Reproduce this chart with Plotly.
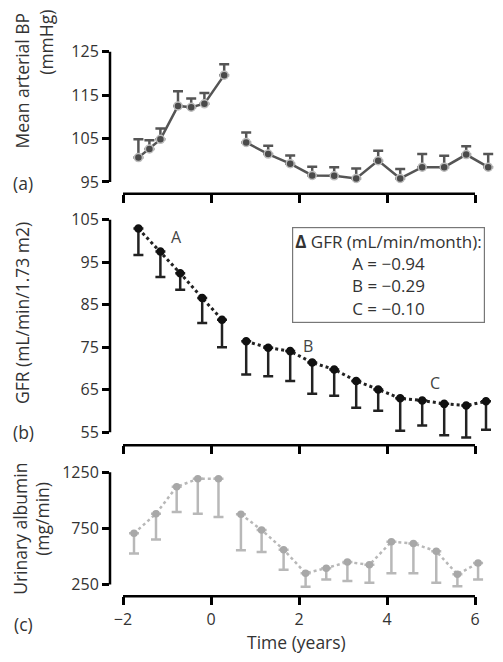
import plotly.graph_objects as go

W, H = 503, 662

# ---------------- data ----------------
# (a) Mean arterial BP (mmHg)
map_x1 = [-1.65, -1.4, -1.15, -0.75, -0.45, -0.15, 0.3]
map_y1 = [100.6, 102.6, 104.8, 112.5, 112.2, 113.0, 119.6]
map_e1 = [4.2, 2.0, 2.5, 3.4, 2.0, 2.5, 2.5]
map_x2 = [0.8, 1.3, 1.8, 2.3, 2.8, 3.3, 3.8, 4.3, 4.8, 5.3, 5.8, 6.3]
map_y2 = [104.1, 101.4, 99.2, 96.5, 96.4, 95.8, 99.9, 95.8, 98.4, 98.4, 101.3, 98.4]
map_e2 = [2.3, 1.9, 1.9, 2.0, 2.0, 2.3, 2.3, 2.2, 3.0, 2.6, 1.9, 3.0]

# (b) GFR (mL/min/1.73 m2)
gfr_x1 = [-1.65, -1.15, -0.7, -0.2, 0.25]
gfr_y1 = [102.9, 97.5, 92.4, 86.6, 81.5]
gfr_e1 = [6.2, 6.0, 3.9, 5.9, 6.5]
gfr_x2 = [0.8, 1.3, 1.8, 2.3, 2.8, 3.3, 3.8, 4.3, 4.8, 5.3, 5.8, 6.25]
gfr_y2 = [76.4, 74.9, 74.1, 71.4, 69.8, 67.1, 65.1, 63.0, 62.5, 61.7, 61.3, 62.3]
gfr_e2 = [7.8, 6.7, 7.0, 7.3, 6.2, 6.3, 5.0, 7.6, 5.9, 7.4, 7.5, 6.7]

# (c) Urinary albumin (mg/min)
alb_x1 = [-1.75, -1.25, -0.78, -0.3, 0.17]
alb_y1 = [705, 880, 1120, 1190, 1190]
alb_e1 = [180, 230, 225, 310, 340]
alb_x2 = [0.68, 1.15, 1.65, 2.15, 2.62, 3.1, 3.6, 4.1, 4.6, 5.12, 5.6, 6.07]
alb_y2 = [875, 735, 560, 350, 395, 450, 425, 630, 615, 545, 340, 440]
alb_e2 = [320, 195, 180, 120, 100, 170, 160, 280, 265, 280, 105, 145]

x_ticks = [-2, 0, 2, 4, 6]
x_ticktext = ["\u22122", "0", "2", "4", "6"]
map_ticks = [95, 105, 115, 125]
gfr_ticks = [55, 65, 75, 85, 95, 105]
alb_ticks = [250, 750, 1250]

slope_labels = ["A", "B", "C"]
slope_vals = ["\u22120.94", "\u22120.29", "\u22120.10"]
slope_pos_x = [-0.78, 2.21, 5.09]
slope_pos_y = [101.0, 75.3, 66.7]

# ---------------- layout geometry (pixels) ----------------
FONT = "Open Sans"
def py(p):
    return 1 - p / H
def px(p):
    return p / W

X_LEFT_PX = 110
PX_PER_YR = 44.0
xmin = -2 - (123 - X_LEFT_PX) / PX_PER_YR
xmax = xmin + (W - X_LEFT_PX) / PX_PER_YR

# panel pixel definitions: (top value, top px, bottom value, bottom px, domain top px, domain bottom px, x-spine px)
panels = {
    "a": (125, 52, 95, 183, 40, 190, 195),
    "b": (105, 221, 55, 435, 205, 446, 448),
    "c": (1250, 475, 250, 588, 462, 598, 600),
}

def yrange(p):
    vt, pt, vb, pb, dt, db, _ = p
    k = (pb - pt) / (vt - vb)  # px per unit
    top = vt + (pt - dt) / k
    bot = vb - (db - pb) / k
    return [bot, top], [py(db), py(dt)]

fig = go.Figure()

mid = "#555555"
light = "#b8b8b8"

def add_series(x, y, e, xa, ya, color, mcolor, msize, dash, lw, up, mline):
    err = dict(type="data", symmetric=False,
               array=(e if up else [0] * len(e)),
               arrayminus=([0] * len(e) if up else e),
               color=color, thickness=2.5, width=5)
    fig.add_trace(go.Scatter(
        x=x, y=y, xaxis=xa, yaxis=ya, mode="lines+markers",
        line=dict(color=color, width=lw, dash=dash),
        marker=dict(color=mcolor, size=msize, line=dict(color=mline, width=1.5)),
        error_y=err, showlegend=False, hoverinfo="skip"))

add_series(map_x1, map_y1, map_e1, "x", "y", mid, "#4a4a4a", 8, "solid", 2.5, True, "#bdbdbd")
add_series(map_x2, map_y2, map_e2, "x", "y", mid, "#4a4a4a", 8, "solid", 2.5, True, "#bdbdbd")
add_series(gfr_x1, gfr_y1, gfr_e1, "x2", "y2", "#222222", "#111111", 7, "dot", 3, False, "#111111")
add_series(gfr_x2, gfr_y2, gfr_e2, "x2", "y2", "#222222", "#111111", 7, "dot", 3, False, "#111111")
add_series(alb_x1, alb_y1, alb_e1, "x3", "y3", light, "#a8a8a8", 6, "dot", 2.5, False, "#a8a8a8")
add_series(alb_x2, alb_y2, alb_e2, "x3", "y3", light, "#a8a8a8", 6, "dot", 2.5, False, "#a8a8a8")

tickfont = dict(family=FONT, size=16, color="#333")
shapes = []
axis_common = dict(showgrid=False, zeroline=False, showline=False, ticks="outside",
                   tickcolor="black", tickwidth=2.5, tickfont=tickfont, fixedrange=True)

layout = dict(width=W, height=H, margin=dict(l=0, r=0, t=0, b=0),
              paper_bgcolor="white", plot_bgcolor="white", showlegend=False)

yvals = {"a": map_ticks, "b": gfr_ticks, "c": alb_ticks}
for i, key in enumerate(["a", "b", "c"]):
    p = panels[key]
    yr, ydom = yrange(p)
    sfx = "" if i == 0 else str(i + 1)
    layout["yaxis" + sfx] = dict(axis_common, domain=ydom, range=yr, anchor="x" + sfx,
                                 tickvals=yvals[key], ticklen=7)
    layout["xaxis" + sfx] = dict(axis_common, domain=[px(X_LEFT_PX), 1], range=[xmin, xmax],
                                 anchor="free", position=py(p[6]), tickvals=x_ticks,
                                 ticktext=x_ticktext, ticklen=8,
                                 showticklabels=(key == "c"))
    shapes.append(dict(type="line", xref="paper", yref="y" + sfx, x0=px(X_LEFT_PX), x1=px(X_LEFT_PX),
                       y0=min(yvals[key]), y1=max(yvals[key]), line=dict(color="black", width=2.5)))
    shapes.append(dict(type="line", xref="x" + sfx, yref="paper", x0=-2, x1=6,
                       y0=py(p[6]), y1=py(p[6]), line=dict(color="black", width=2.5)))

layout["shapes"] = shapes

annots = []
tf = dict(family=FONT, size=17.5, color="#333")
def ann(text, x, y, angle=0, **kw):
    d = dict(text=text, xref="paper", yref="paper", x=px(x), y=py(y), showarrow=False,
             font=tf, textangle=angle, xanchor="center", yanchor="middle")
    d.update(kw)
    annots.append(d)

ann("Mean arterial BP", 22, 81, -90)
ann("(mmHg)", 46, 43, -90)
ann("GFR (mL/min/1.73 m2)", 22, 315, -90)
ann("Urinary albumin", 20, 532, -90)
ann("(mg/min)", 42, 522, -90)
ann("(a)", 23, 184)
ann("(b)", 23, 435)
ann("(c)", 23, 628)
ann("Time (years)", 296, 646)

for lab, xv, yv in zip(slope_labels, slope_pos_x, slope_pos_y):
    annots.append(dict(text=lab, xref="x2", yref="y2", x=xv, y=yv, showarrow=False,
                       font=dict(family=FONT, size=16, color="#444")))

box_text = "<b>\u0394</b> GFR (mL/min/month):<br>" + "<br>".join(
    f"{l} = {v}" for l, v in zip(slope_labels, slope_vals))
annots.append(dict(text=box_text, xref="paper", yref="paper", x=px(292), y=py(228),
                   xanchor="left", yanchor="top", showarrow=False, align="center",
                   font=dict(family=FONT, size=17, color="#333"),
                   bordercolor="#777", borderwidth=1.2, borderpad=2, bgcolor="white"))
layout["annotations"] = annots

fig.update_layout(**layout)
fig.write_html("out.html")
